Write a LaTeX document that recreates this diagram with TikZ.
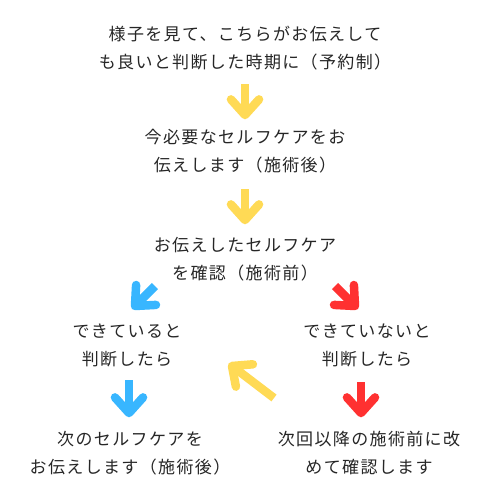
\documentclass[tikz,border=0pt]{standalone}
\usepackage{fontspec}
\newfontfamily\jpfont[LetterSpace=8]{Noto Sans CJK JP}
\usetikzlibrary{calc}
\definecolor{txtcol}{HTML}{262626}
\definecolor{yelcol}{HTML}{FFDA55}
\definecolor{bluecol}{HTML}{38B6FF}
\definecolor{redcol}{HTML}{FF3131}
\tikzset{
  step box/.style={align=center, text=txtcol, inner sep=0pt, font=\jpfont\fontsize{17}{28}\selectfont},
  shaft/.style={line width=8.5pt, line cap=butt},
  barb/.style={line width=8.5pt, line cap=round, line join=round},
}
% shaft from #2 to tip #3, then the barb round the tip
\newcommand\flowarrow[3]{%
  \draw[shaft, #1] (#2) -- (#3);
  \draw[barb, #1] ($(#3)!21pt!42:(#2)$) -- (#3) -- ($(#3)!21pt!-42:(#2)$);
}

\begin{document}
\begin{tikzpicture}[x=1pt, y=-1pt]
  \useasboundingbox (0,0) rectangle (490,490);
  \node[step box] (booking) at (245, 48) {様子を見て、こちらがお伝えして\\も良いと判断した時期に（予約制）};
  \node[step box] (advice)  at (245,151) {今必要なセルフケアをお\\伝えします（施術後）};
  \node[step box] (check)   at (245,259) {お伝えしたセルフケア\\を確認（施術前）};
  \node[step box] (done)    at (127,345) {できていると\\判断したら};
  \node[step box] (notdone) at (367,345) {できていないと\\判断したら};
  \node[step box] (next)    at (130,453) {次のセルフケアを\\お伝えします（施術後）};
  \node[step box] (again)   at (369,453) {次回以降の施術前に改\\めて確認します};

  \coordinate (a1s) at (245, 84);  \coordinate (a1t) at (245,115);
  \coordinate (a2s) at (245,189);  \coordinate (a2t) at (245,220);
  \coordinate (b1s) at (155,286);  \coordinate (b1t) at (135,306);
  \coordinate (r1s) at (335,286);  \coordinate (r1t) at (355,306);
  \coordinate (b2s) at (129,380);  \coordinate (b2t) at (129,413);
  \coordinate (r2s) at (361,382);  \coordinate (r2t) at (361,413);
  \coordinate (y3s) at (274,398);  \coordinate (y3t) at (232,366);

  \flowarrow{yelcol}{a1s}{a1t}
  \flowarrow{yelcol}{a2s}{a2t}
  \flowarrow{bluecol}{b1s}{b1t}
  \flowarrow{redcol}{r1s}{r1t}
  \flowarrow{bluecol}{b2s}{b2t}
  \flowarrow{redcol}{r2s}{r2t}
  \flowarrow{yelcol}{y3s}{y3t}
\end{tikzpicture}
\end{document}
